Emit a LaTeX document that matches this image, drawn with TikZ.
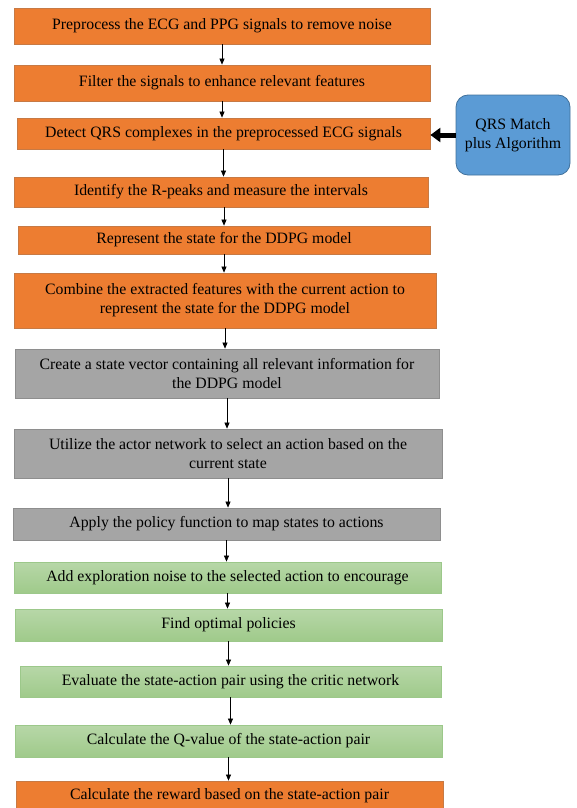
\documentclass[tikz,border=0pt]{standalone}
\usepackage{fontspec}
\setmainfont{Liberation Serif}
\usetikzlibrary{arrows.meta}
\definecolor{orfill}{HTML}{ED7D31}
\definecolor{ordraw}{HTML}{C77A45}
\definecolor{grfill}{HTML}{A5A5A5}
\definecolor{grdraw}{HTML}{8E8E8E}
\definecolor{lgtop}{HTML}{B7D7A8}
\definecolor{lgbot}{HTML}{9FCA8A}
\definecolor{lgdraw}{HTML}{9CC88A}
\definecolor{qfill}{HTML}{5B9BD5}
\definecolor{qdraw}{HTML}{41719C}
\begin{document}
\begin{tikzpicture}[x=1pt,y=-1pt,
  base/.style={rectangle, inner sep=0pt, align=center, font=\fontsize{15.8}{19}\selectfont, line width=0.8pt},
  obox/.style={base, fill=orfill, draw=ordraw},
  gbox/.style={base, fill=grfill, draw=grdraw},
  lbox/.style={base, top color=lgtop, bottom color=lgbot, draw=lgdraw},
  qbox/.style={base, rounded corners=12pt, fill=qfill, draw=qdraw},
  arr/.style={-{Triangle[length=6pt,width=5pt]}, line width=0.6pt, draw=black},
  thick arr/.style={-{Triangle[length=10pt,width=14pt]}, line width=5pt, draw=black}
]
\useasboundingbox (0,0) rectangle (577,808);
\clip (0,0) rectangle (577,808);

\node[obox, minimum width=416pt, minimum height=36pt] (b1) at (222,26) {Preprocess the ECG and PPG signals to remove noise};
\node[obox, minimum width=416pt, minimum height=36pt] (b2) at (222,83) {Filter the signals to enhance relevant features};
\node[obox, minimum width=413pt, minimum height=31pt] (b3) at (223.5,133.5) {Detect QRS complexes in the preprocessed ECG signals};
\node[qbox, minimum width=114pt, minimum height=80pt] (q) at (513,135) {QRS Match\\plus Algorithm};
\node[obox, minimum width=414pt, minimum height=30pt] (b4) at (221,192) {Identify the R-peaks and measure the intervals};
\node[obox, minimum width=412pt, minimum height=28pt] (b5) at (224,240) {Represent the state for the DDPG model};
\node[obox, minimum width=422pt, minimum height=55pt] (b6) at (225,300.5) {Combine the extracted features with the current action to\\represent the state for the DDPG model};
\node[gbox, minimum width=424pt, minimum height=49pt] (b7) at (227,373.5) {Create a state vector containing all relevant information for\\the DDPG model};
\node[gbox, minimum width=428pt, minimum height=49pt] (b8) at (228,453.5) {Utilize the actor network to select an action based on the\\current state};
\node[gbox, minimum width=427pt, minimum height=32pt] (b9) at (226.5,524) {Apply the policy function to map states to actions};
\node[lbox, minimum width=427pt, minimum height=31pt] (b10) at (227.5,577.5) {Add exploration noise to the selected action to encourage};
\node[lbox, minimum width=427pt, minimum height=32pt] (b11) at (228.5,625) {Find optimal policies};
\node[lbox, minimum width=421pt, minimum height=31pt] (b12) at (230.5,681.5) {Evaluate the state-action pair using the critic network};
\node[lbox, minimum width=427pt, minimum height=32pt] (b13) at (228.5,741) {Calculate the Q-value of the state-action pair};
\node[obox, minimum width=427pt, minimum height=30pt] (b14) at (229.5,796) {Calculate the reward based on the state-action pair};

\draw[arr] (b1.south) -- (b1.south |- b2.north);
\draw[arr] (b2.south) -- (b2.south |- b3.north);
\draw[arr] (b3.south) -- (b3.south |- b4.north);
\draw[arr] (b4.south -| b5.north) -- (b5.north);
\draw[arr] (b5.south) -- (b5.south |- b6.north);
\draw[arr] (b6.south) -- (b6.south |- b7.north);
\draw[arr] (b7.south) -- (b7.south |- b8.north);
\draw[arr] (b8.south) -- (b8.south |- b9.north);
\draw[arr] (b9.south) -- (b9.south |- b10.north);
\draw[arr] (b10.south) -- (b10.south |- b11.north);
\draw[arr] (b11.south) -- (b11.south |- b12.north);
\draw[arr] (b12.south) -- (b12.south |- b13.north);
\draw[arr] (b13.south) -- (b13.south |- b14.north);

\draw[thick arr] (q.west) -- (q.west -| b3.east);
\end{tikzpicture}
\end{document}
